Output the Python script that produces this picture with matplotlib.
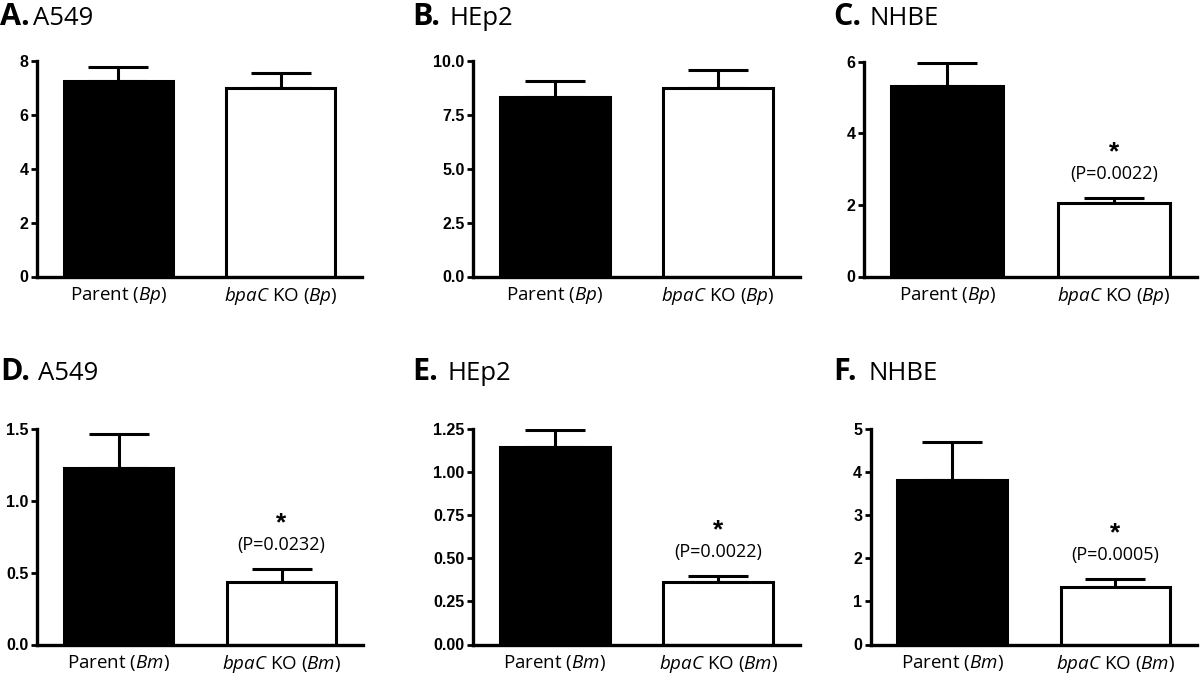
import matplotlib
matplotlib.use("Agg")
import matplotlib.pyplot as plt

plt.rcParams["font.family"] = ["Open Sans", "DejaVu Sans"]
plt.rcParams["mathtext.fontset"] = "custom"
plt.rcParams["mathtext.rm"] = "Open Sans"
plt.rcParams["mathtext.it"] = "Open Sans:italic"

# panel data (upper SEM only)
letters = ["A.", "B.", "C.", "D.", "E.", "F."]
cells = ["A549", "HEp2", "NHBE", "A549", "HEp2", "NHBE"]
strains = ["Bp", "Bp", "Bp", "Bm", "Bm", "Bm"]
parent_means = [7.24, 8.33, 5.32, 1.23, 1.144, 3.82]
parent_err = [0.54, 0.74, 0.64, 0.233, 0.098, 0.885]
ko_means = [7.00, 8.73, 2.05, 0.438, 0.360, 1.34]
ko_err = [0.55, 0.85, 0.14, 0.088, 0.035, 0.18]
y_max = [8, 10, 6, 1.5, 1.25, 5]
y_ticks = [
    [0, 2, 4, 6, 8],
    [0, 2.5, 5, 7.5, 10],
    [0, 2, 4, 6],
    [0, 0.5, 1.0, 1.5],
    [0, 0.25, 0.5, 0.75, 1.0, 1.25],
    [0, 1, 2, 3, 4, 5],
]
tick_fmt = ["{:.0f}", "{:.1f}", "{:.0f}", "{:.1f}", "{:.2f}", "{:.0f}"]
p_values = [None, None, "(P=0.0022)", "(P=0.0232)", "(P=0.0022)", "(P=0.0005)"]

W, H = 1200, 677
fig = plt.figure(figsize=(12, 6.77), dpi=100)

# axes boxes in pixels: left, right, top, bottom
boxes = [
    (37, 362, 61, 276.5),
    (473, 800, 61, 276.5),
    (864, 1197, 61.5, 276.5),
    (37, 363, 429, 644.5),
    (473, 800, 429, 644.5),
    (870.5, 1197, 429, 644.5),
]
# title positions in pixels: letter x, name x, baseline y
title_pos = [
    (0, 33, 25), (412, 449, 25), (833, 870, 25),
    (0, 38, 380), (412, 448, 380), (833, 868, 380),
]

for i in range(6):
    l, r, t, b = boxes[i]
    ax = fig.add_axes([l / W, 1 - b / H, (r - l) / W, (b - t) / H])
    x = [0, 1]
    ax.bar(x, [parent_means[i], ko_means[i]], width=0.67,
           color=["black", "white"], edgecolor="black", linewidth=2.2, zorder=2)
    ax.errorbar(x, [parent_means[i], ko_means[i]],
                yerr=[[0, 0], [parent_err[i], ko_err[i]]],
                fmt="none", ecolor="black", elinewidth=2.2, capsize=21.5,
                capthick=2.2, zorder=1)
    ax.set_xlim(-0.5, 1.5)
    ax.set_ylim(0, y_max[i])
    ax.set_yticks(y_ticks[i])
    ax.set_yticklabels([tick_fmt[i].format(v) for v in y_ticks[i]],
                       fontfamily="Liberation Sans", fontweight="bold", fontsize=11.5)
    s = strains[i]
    ax.set_xticks(x)
    ax.set_xticklabels([r"Parent ($\mathit{%s}$)" % s,
                        r"$\mathit{bpaC}$ KO ($\mathit{%s}$)" % s], fontsize=13.5)
    ax.tick_params(axis="x", length=0, pad=6)
    ax.tick_params(axis="y", length=4, width=2, pad=2)
    for side in ["top", "right"]:
        ax.spines[side].set_visible(False)
    for side in ["left", "bottom"]:
        ax.spines[side].set_linewidth(2.4)

    if p_values[i]:
        top = ko_means[i] + ko_err[i]
        ax.annotate(p_values[i], (1, top), xytext=(0, 24), textcoords="offset pixels",
                    ha="center", va="center", fontsize=13)
        ax.annotate("*", (1, top), xytext=(0, 46), textcoords="offset pixels",
                    ha="center", va="center", fontsize=19, fontweight="bold",
                    fontfamily="Liberation Sans")

    lx, nx, by = title_pos[i]
    fig.text(lx / W, 1 - by / H, letters[i], fontsize=22, fontweight="bold",
             ha="left", va="baseline")
    fig.text(nx / W, 1 - by / H, cells[i], fontsize=18.5, ha="left", va="baseline")

fig.savefig("out.png", dpi=100, facecolor="white")
